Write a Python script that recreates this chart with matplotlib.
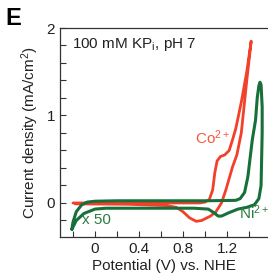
import matplotlib.pyplot as plt
from matplotlib.ticker import MultipleLocator

plt.rcParams['font.family'] = ['Liberation Sans', 'DejaVu Sans']
plt.rcParams['mathtext.fontset'] = 'custom'
plt.rcParams['mathtext.rm'] = 'Liberation Sans'
plt.rcParams['mathtext.it'] = 'Liberation Sans:italic'
plt.rcParams['mathtext.bf'] = 'Liberation Sans:bold'

# Co2+ cyclic voltammogram (forward then reverse scan)
co_e = [-0.2, 0.2, 0.6, 0.95, 1.0, 1.04, 1.07, 1.09, 1.11, 1.14, 1.18, 1.22, 1.25, 1.28,
        1.33, 1.38, 1.42,
        1.38, 1.33, 1.29, 1.25, 1.19, 1.15, 1.1, 1.05, 0.97, 0.92, 0.86, 0.8, 0.74, 0.65,
        0.3, -0.18]
co_i = [0.0, 0.0, 0.0, 0.0, 0.01, 0.04, 0.15, 0.35, 0.48, 0.53, 0.55, 0.6, 0.72, 0.85,
        1.15, 1.5, 1.85,
        1.4, 0.8, 0.55, 0.41, 0.15, 0.0, -0.1, -0.15, -0.2, -0.21, -0.17, -0.1, -0.05, -0.03,
        -0.015, -0.01]

# Ni2+ cyclic voltammogram, current x 50
ni_e = [-0.21, -0.2, -0.17, -0.12, -0.07, 0.0, 0.2, 0.6, 1.0, 1.28, 1.32, 1.36, 1.39,
        1.43, 1.46, 1.475, 1.49, 1.5,
        1.51, 1.52, 1.52, 1.515, 1.51, 1.49, 1.45, 1.38, 1.3, 1.22, 1.15, 1.12, 1.08,
        1.03, 0.9, 0.5, 0.1, 0.0, -0.1, -0.17, -0.21]
ni_i = [-0.30, -0.22, -0.10, -0.02, 0.01, 0.02, 0.025, 0.025, 0.025, 0.03, 0.05, 0.12, 0.3,
        0.72, 0.95, 1.2, 1.34, 1.38,
        1.35, 1.1, 0.8, 0.5, 0.2, 0.05, -0.02, -0.05, -0.07, -0.11, -0.15, -0.15, -0.11,
        -0.07, -0.06, -0.06, -0.06, -0.07, -0.12, -0.2, -0.30]

red = '#f2402a'
green = '#17703a'

fig = plt.figure(figsize=(2.68, 2.78), dpi=100)
ax = fig.add_axes([60 / 268, 41 / 278, 208 / 268, 209 / 278])

ax.plot(co_e, co_i, color=red, lw=2.0, solid_joinstyle='round', solid_capstyle='round')
ax.plot(ni_e, ni_i, color=green, lw=2.2, solid_joinstyle='round', solid_capstyle='round')

ax.set_xlim(-0.318, 1.573)
ax.set_ylim(-0.389, 2.0)
ax.xaxis.set_minor_locator(MultipleLocator(0.2))
ax.yaxis.set_major_locator(MultipleLocator(1))
ax.yaxis.set_minor_locator(MultipleLocator(0.2))
ax.set_xticks([0, 0.4, 0.8, 1.2])
ax.set_xticklabels(['0', '0.4', '0.8', '1.2'])
ax.tick_params(which='both', direction='in', length=4, width=0.8, color='#333333',
               labelsize=11, labelcolor='#222222')
ax.spines['right'].set_visible(False)
for s in ['left', 'bottom', 'top']:
    ax.spines[s].set_color('#333333')
    ax.spines[s].set_linewidth(0.9)

ax.set_xlabel('Potential (V) vs. NHE', fontsize=11, color='#222222', labelpad=2)
ax.set_ylabel('Current density (mA/cm$^2$)', fontsize=11, color='#222222', labelpad=4)

ax.text(0.058, 0.919, '100 mM KP$_\\mathrm{i}$, pH 7', transform=ax.transAxes,
        fontsize=11, va='center', ha='left', color='#222222')
ax.text(0.91, 0.75, 'Co$^{2+}$', color='#f25a3c', fontsize=11, va='center', ha='left')
ax.text(1.31, -0.11, 'Ni$^{2+}$', color='#2a7d40', fontsize=11, va='center', ha='left')
ax.text(-0.12, -0.19, 'x 50', color='#2a7d40', fontsize=11, va='center', ha='left')

fig.text(0.02, 0.935, 'E', fontsize=17, fontweight='bold', ha='left', va='center')

fig.savefig('out.png', dpi=100)
